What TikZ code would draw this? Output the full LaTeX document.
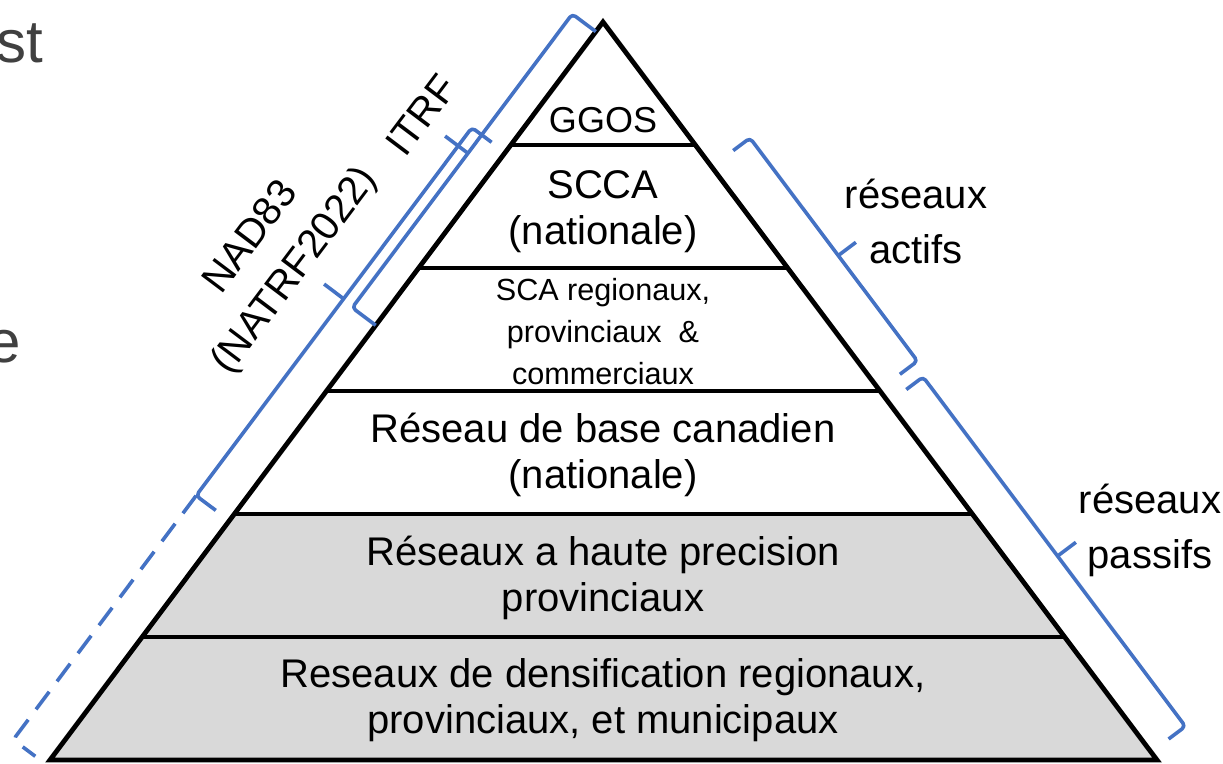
\documentclass[tikz,border=0pt]{standalone}
\usepackage{fontspec}
\setmainfont{Liberation Sans}
\usetikzlibrary{calc}
\definecolor{bracketblue}{RGB}{68,114,196}
\definecolor{layergray}{RGB}{217,217,217}
\definecolor{slidegray}{RGB}{64,64,64}

\begin{document}
\begin{tikzpicture}[x=0.5pt, y=-0.5pt,
    layer/.style ={align=center, font=\fontsize{20}{23}\selectfont},
    small layer/.style ={align=center, font=\fontsize{15.3}{21}\selectfont},
    side/.style ={align=center, font=\fontsize{20}{27.5}\selectfont},
    slide text/.style ={inner sep=0pt, text=slidegray, font=\fontsize{30}{36}\selectfont},
    bracket/.style ={draw=bracketblue, line width=1.8pt, line join=round, rounded corners=2pt}]
   \useasboundingbox (0,0) rectangle (1223,764);
   \coordinate (apex) at (603,22);
   \coordinate (bl) at (50,760);
   \coordinate (br) at (1157,760);
   % passive layers
   \fill[layergray] ($(apex)!4/6!(bl)$) -- ($(apex)!4/6!(br)$) -- (br) -- (bl) -- cycle;
   \foreach \k in {1,...,5}
     \draw[line width=2.4pt] ($(apex)!\k/6!(bl)$) -- ($(apex)!\k/6!(br)$);
   \draw[line width=2.4pt] (apex) -- (br) -- (bl) -- cycle;

   \node[layer, font=\fontsize{18}{22}\selectfont] (ggos) at (603,120) {GGOS};
   \node[layer] (scca) at (603,212) {SCCA\\(nationale)};
   \node[small layer] (sca) at (603,332) {SCA regionaux,\\provinciaux \ \&\\commerciaux};
   \node[layer] (rbc) at (603,455) {Réseau de base canadien\\(nationale)};
   \node[layer] (rhp) at (603,578) {Réseaux a haute precision\\provinciaux};
   \node[layer] (rds) at (603,700) {Reseaux de densification regionaux,\\provinciaux, et municipaux};

   \node[side] (actifs) at (916,221) {réseaux\\actifs};
   \node[side] (passifs) at (1150,530) {réseaux\\passifs};
   \node[side, rotate=53] (itrf) at (421,115) {ITRF};
   \node[side, rotate=53] (nad) at (274,255) {NAD83\\(NATRF2022)};

   \node[slide text, anchor=base east] (st) at (44,63) {st};
   \node[slide text, anchor=base east] (e) at (21,363) {e};

   % brackets, left side
   \draw[bracket] (595.8,31.6) -- (572.3,14.0) -- (352.2,307.7) -- (375.7,325.3);
   \draw[bracket] (468.0,153.3) -- (445.1,136.1);
   \draw[bracket] (491.6,142.3) -- (471.9,127.6) -- (196.1,495.7) -- (215.8,510.4);
   \draw[bracket] (343.6,298.8) -- (324.1,284.1);
   \draw[bracket, dash pattern=on 11pt off 6.5pt] (196.1,495.7) -- (13.2,739.8) -- (35.3,756.3);
   % brackets, right side
   \draw[bracket] (733.2,150.6) -- (750.0,138.0) -- (917.5,361.1) -- (899.9,374.3);
   \draw[bracket] (838.3,255.5) -- (855.9,242.3);
   \draw[bracket] (906.3,389.5) -- (923.1,376.9) -- (1185.4,726.4) -- (1168.6,739.0);
   \draw[bracket] (1057.5,556.1) -- (1075.9,542.3);
 \end{tikzpicture}
\end{document}
